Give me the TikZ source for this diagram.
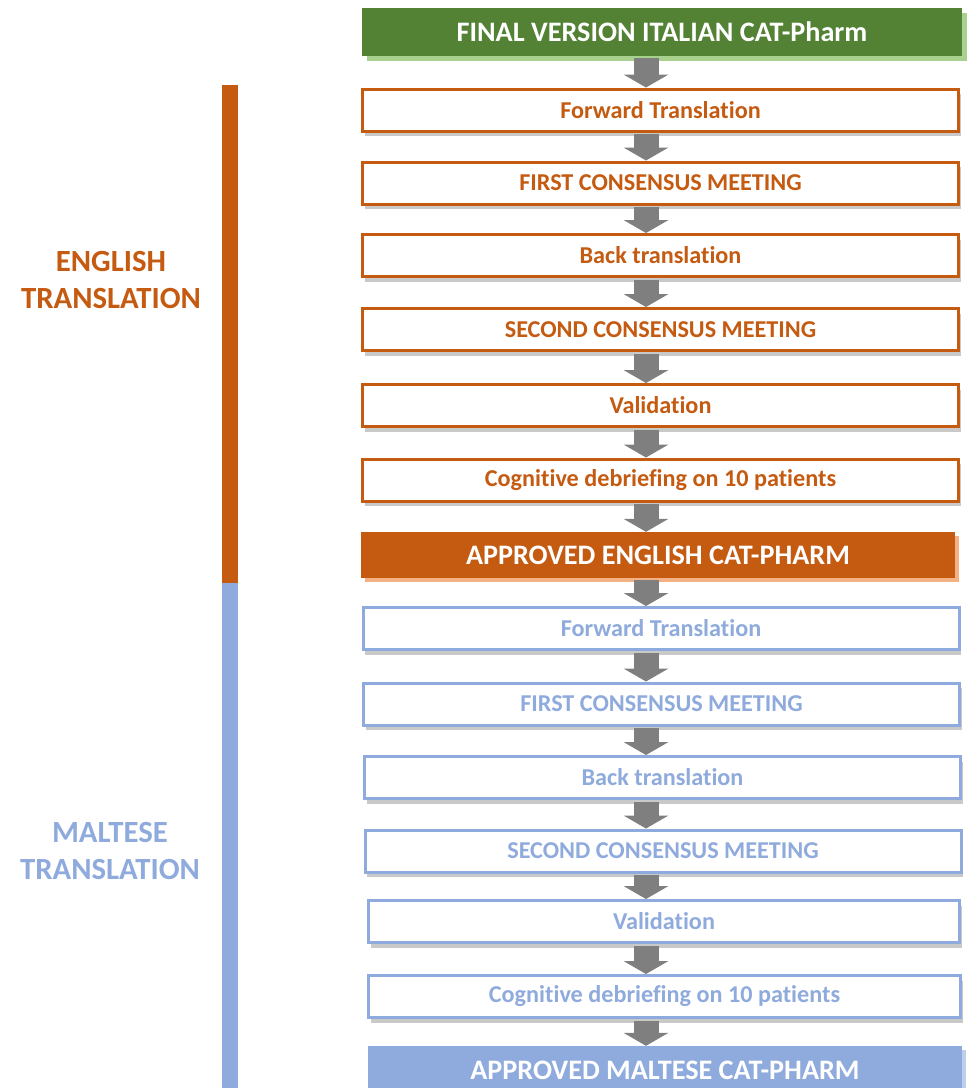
\documentclass[tikz,border=0pt]{standalone}
\usepackage{fontspec}
\setmainfont{Carlito}[RawFeature={-liga;-clig;-calt;-rlig;-dlig}]
\usetikzlibrary{arrows.meta,shadows}

\definecolor{itagreen}{RGB}{84,130,53}
\definecolor{itashadow}{RGB}{169,209,142}
\definecolor{engorange}{RGB}{197,90,17}
\definecolor{engshadow}{RGB}{244,177,131}
\definecolor{maltblue}{RGB}{143,170,220}
\definecolor{maltshadow}{RGB}{190,207,236}
\definecolor{arrowgray}{RGB}{127,127,127}

\tikzset{
  stepbox/.style={draw=#1, line width=3pt, fill=white, text=#1,
    minimum width=596pt, minimum height=42pt, inner sep=0pt,
    font=\bfseries\fontsize{24.2}{29}\selectfont,
    drop shadow={shadow xshift=2pt, shadow yshift=-5pt, opacity=0.3, fill=black!70}},
  headbox/.style={fill=#1, text=white, minimum width=596pt, minimum height=47pt,
    inner sep=0pt, font=\bfseries\fontsize{28.2}{33}\selectfont},
  sidelabel/.style={text=#1, align=center, inner sep=0pt,
    font=\bfseries\fontsize{30.8}{37}\selectfont},
  flowarrow/.style={draw=arrowgray, line width=25pt, shorten <=1.5pt,
    -{Triangle[length=13pt,width=45pt,line width=0pt,fill=arrowgray]}}
}

\begin{document}
\begin{tikzpicture}[x=1pt,y=1pt,yscale=-1,xscale=1]
    \useasboundingbox (0,0) rectangle (967,1088);
    
    %Shape: Rectangle [side bars]
    \fill [engorange] (222,85) rectangle (238,583);
    \fill [maltblue] (222,583) rectangle (238,1090);
    
    % Side labels
    \node [sidelabel=engorange] (englabel) at (111,280) {ENGLISH\\TRANSLATION};
    \node [sidelabel=maltblue] (maltlabel) at (110,851) {MALTESE\\TRANSLATION};
    
    % Column of the arrows
    \coordinate (ax) at (646,0);
    
    % Italian version
    \node [headbox=itagreen, minimum width=600pt, minimum height=48pt,
      drop shadow={shadow xshift=5pt, shadow yshift=-5pt, opacity=1, fill=itashadow}] (ita) at (662,32) {FINAL VERSION ITALIAN CAT-Pharm};
    
    % English translation steps
    \node [stepbox=engorange] (eng1) at (660.5,110) {Forward Translation};
    \node [stepbox=engorange] (eng2) at (660.5,183) {FIRST CONSENSUS MEETING};
    \node [stepbox=engorange] (eng3) at (660.5,255.5) {Back translation};
    \node [stepbox=engorange] (eng4) at (660.5,329.5) {SECOND CONSENSUS MEETING};
    \node [stepbox=engorange] (eng5) at (660.5,405.5) {Validation};
    \node [stepbox=engorange] (eng6) at (660.5,480) {Cognitive debriefing on 10 patients};
    \node [headbox=engorange, minimum width=594pt, minimum height=46pt,
      drop shadow={shadow xshift=4pt, shadow yshift=-4pt, opacity=1, fill=engshadow}] (engok) at (658,555) {APPROVED ENGLISH CAT-PHARM};
    
    % Maltese translation steps
    \node [stepbox=maltblue] (malt1) at (661,628.5) {Forward Translation};
    \node [stepbox=maltblue] (malt2) at (661.5,704) {FIRST CONSENSUS MEETING};
    \node [stepbox=maltblue] (malt3) at (662.5,777.5) {Back translation};
    \node [stepbox=maltblue] (malt4) at (663,851) {SECOND CONSENSUS MEETING};
    \node [stepbox=maltblue, minimum width=591pt] (malt5) at (664,921.5) {Validation};
    \node [stepbox=maltblue, minimum width=592pt] (malt6) at (664.5,996.5) {Cognitive debriefing on 10 patients};
    \node [headbox=maltblue, minimum width=594pt, minimum height=48pt,
      drop shadow={shadow xshift=4pt, shadow yshift=-4pt, opacity=1, fill=maltshadow}] (maltok) at (665,1070) {APPROVED MALTESE CAT-PHARM};
    
    %Block arrows
    \draw [flowarrow] (ita.south -| ax) -- (eng1.north -| ax);
    \draw [flowarrow] (eng1.south -| ax) -- (eng2.north -| ax);
    \draw [flowarrow] (eng2.south -| ax) -- (eng3.north -| ax);
    \draw [flowarrow] (eng3.south -| ax) -- (eng4.north -| ax);
    \draw [flowarrow] (eng4.south -| ax) -- (eng5.north -| ax);
    \draw [flowarrow] (eng5.south -| ax) -- (eng6.north -| ax);
    \draw [flowarrow] (eng6.south -| ax) -- (engok.north -| ax);
    \draw [flowarrow] (engok.south -| ax) -- (malt1.north -| ax);
    \draw [flowarrow] (malt1.south -| ax) -- (malt2.north -| ax);
    \draw [flowarrow] (malt2.south -| ax) -- (malt3.north -| ax);
    \draw [flowarrow] (malt3.south -| ax) -- (malt4.north -| ax);
    \draw [flowarrow] (malt4.south -| ax) -- (malt5.north -| ax);
    \draw [flowarrow] (malt5.south -| ax) -- (malt6.north -| ax);
    \draw [flowarrow] (malt6.south -| ax) -- (maltok.north -| ax);
    
\end{tikzpicture}
\end{document}
